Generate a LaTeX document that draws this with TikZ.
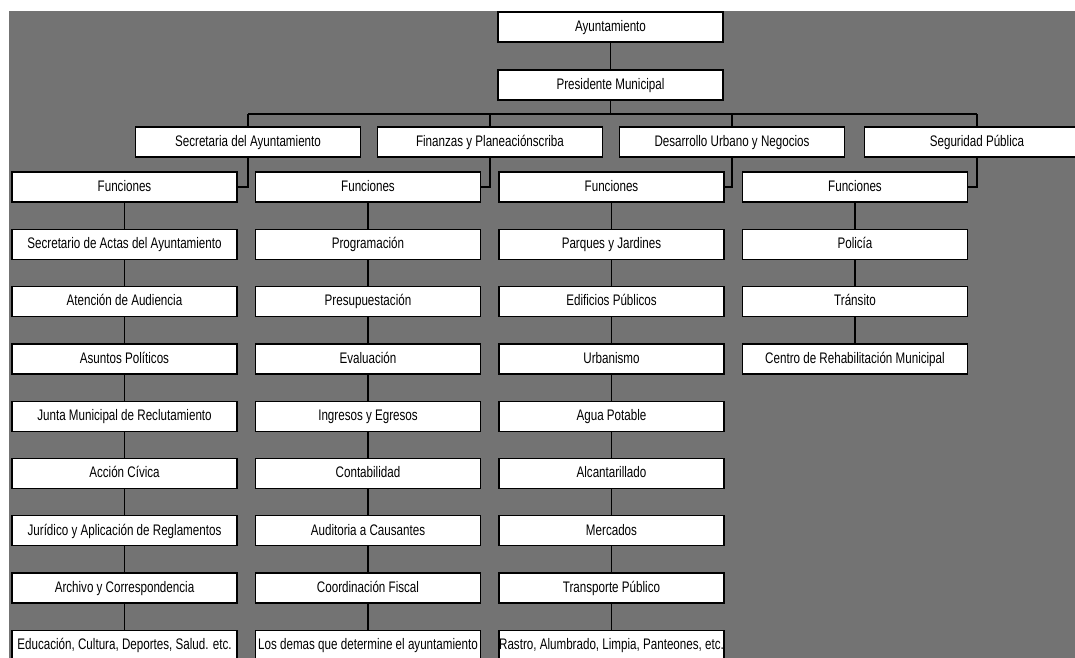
\documentclass[tikz,border=0pt]{standalone}
\usepackage{fontspec}
\newfontfamily\orgfont{Liberation Sans}[FakeStretch=0.76]
\usetikzlibrary{calc}

\begin{document}
\begin{tikzpicture}[line width=0.7pt,
  unit/.style={draw,fill=white,minimum width=4.5cm,minimum height=0.6cm,inner sep=0pt,
    text height=1.6ex,text depth=0.45ex,font=\orgfont\fontsize{8.7}{10}\selectfont}]

\useasboundingbox (0,0) rectangle (21.5,-13.16);
\fill[black!55] (0.18,-0.22) rectangle (21.5,-13.16);

\node[unit](A1) at (12.21,-0.54) {Ayuntamiento};
\node[unit](P1) at (12.21,-1.70) {Presidente Municipal};

\node[unit](S1) at (4.96,-2.84) {Secretaria del Ayuntamiento};
\node[unit](S2) at (9.80,-2.84) {Finanzas y Planeaciónscriba};
\node[unit](S3) at (14.64,-2.84) {Desarrollo Urbano y Negocios};
\node[unit](S4) at (19.54,-2.84) {Seguridad Pública};
\coordinate (B1) at (4.96,-2.28);
\coordinate (B4) at (19.54,-2.28);

\node[unit](F1) at (2.49,-3.74) {Funciones};
\node[unit](F2) at ($(F1)+(4.87,0)$) {Funciones};
\node[unit](F3) at ($(F2)+(4.87,0)$) {Funciones};
\node[unit](F4) at ($(F3)+(4.87,0)$) {Funciones};

% Secretaria
\node[unit](X1) at ($(F1)+(0,-1.146)$) {Secretario de Actas del Ayuntamiento};
\node[unit](X2) at ($(X1)+(0,-1.146)$) {Atención de Audiencia};
\node[unit](X3) at ($(X2)+(0,-1.146)$) {Asuntos Políticos};
\node[unit](X4) at ($(X3)+(0,-1.146)$) {Junta Municipal de Reclutamiento};
\node[unit](X5) at ($(X4)+(0,-1.146)$) {Acción Cívica};
\node[unit](X6) at ($(X5)+(0,-1.146)$) {Jurídico y Aplicación de Reglamentos};
\node[unit](X7) at ($(X6)+(0,-1.146)$) {Archivo y Correspondencia};
\node[unit](X8) at ($(X7)+(0,-1.146)$) {Educación, Cultura, Deportes, Salud. etc.};

% Finanzas
\node[unit](Y1) at ($(F2)+(0,-1.146)$) {Programación};
\node[unit](Y2) at ($(Y1)+(0,-1.146)$) {Presupuestación};
\node[unit](Y3) at ($(Y2)+(0,-1.146)$) {Evaluación};
\node[unit](Y4) at ($(Y3)+(0,-1.146)$) {Ingresos y Egresos};
\node[unit](Y5) at ($(Y4)+(0,-1.146)$) {Contabilidad};
\node[unit](Y6) at ($(Y5)+(0,-1.146)$) {Auditoria a Causantes};
\node[unit](Y7) at ($(Y6)+(0,-1.146)$) {Coordinación Fiscal};
\node[unit](Y8) at ($(Y7)+(0,-1.146)$) {Los demas que determine el ayuntamiento};

% Desarrollo urbano
\node[unit](Z1) at ($(F3)+(0,-1.146)$) {Parques y Jardines};
\node[unit](Z2) at ($(Z1)+(0,-1.146)$) {Edificios Públicos};
\node[unit](Z3) at ($(Z2)+(0,-1.146)$) {Urbanismo};
\node[unit](Z4) at ($(Z3)+(0,-1.146)$) {Agua Potable};
\node[unit](Z5) at ($(Z4)+(0,-1.146)$) {Alcantarillado};
\node[unit](Z6) at ($(Z5)+(0,-1.146)$) {Mercados};
\node[unit](Z7) at ($(Z6)+(0,-1.146)$) {Transporte Público};
\node[unit](Z8) at ($(Z7)+(0,-1.146)$) {Rastro, Alumbrado, Limpia, Panteones, etc.};

% Seguridad
\node[unit](W1) at ($(F4)+(0,-1.146)$) {Policía};
\node[unit](W2) at ($(W1)+(0,-1.146)$) {Tránsito};
\node[unit](W3) at ($(W2)+(0,-1.146)$) {Centro de Rehabilitación Municipal};

\draw (A1) -- (P1);
\draw (P1) -- (P1 |- B1);
\draw (B1) -- (B4);
\path
(B1) edge (S1)
(B1 -| S2) edge (S2)
(B1 -| S3) edge (S3)
(B4) edge (S4);
\draw (S1.south) |- (F1.east);
\draw (S2.south) |- (F2.east);
\draw (S3.south) |- (F3.east);
\draw (S4.south) |- (F4.east);

\path
(F1) edge (X1) (X1) edge (X2) (X2) edge (X3) (X3) edge (X4)
(X4) edge (X5) (X5) edge (X6) (X6) edge (X7) (X7) edge (X8)
(F2) edge (Y1) (Y1) edge (Y2) (Y2) edge (Y3) (Y3) edge (Y4)
(Y4) edge (Y5) (Y5) edge (Y6) (Y6) edge (Y7) (Y7) edge (Y8)
(F3) edge (Z1) (Z1) edge (Z2) (Z2) edge (Z3) (Z3) edge (Z4)
(Z4) edge (Z5) (Z5) edge (Z6) (Z6) edge (Z7) (Z7) edge (Z8)
(F4) edge (W1) (W1) edge (W2) (W2) edge (W3);
\end{tikzpicture}
\end{document}
